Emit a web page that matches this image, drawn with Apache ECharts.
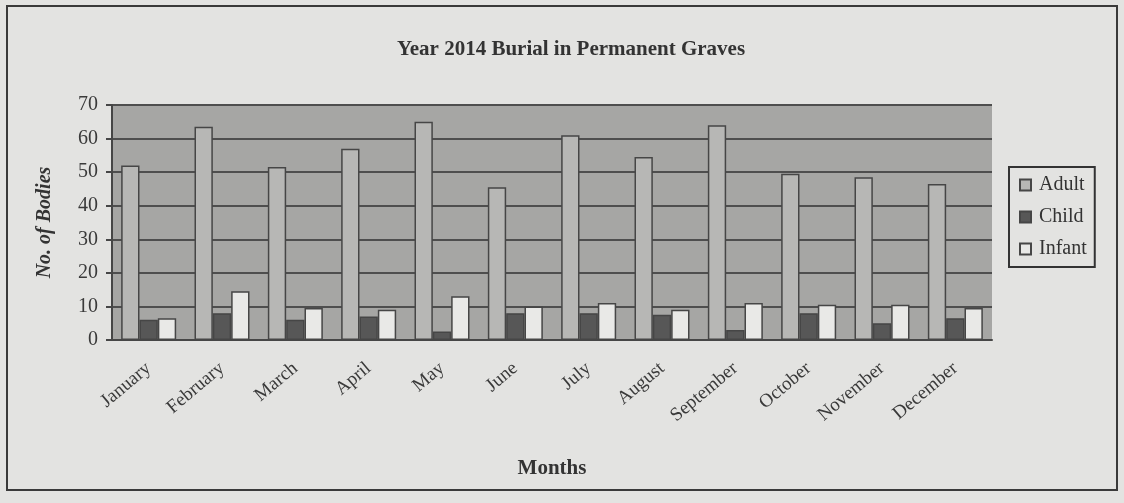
<!DOCTYPE html>
<html>
<head>
<meta charset="utf-8">
<title>Year 2014 Burial in Permanent Graves</title>
<script src="https://cdn.jsdelivr.net/npm/echarts@6/dist/echarts.min.js"></script>
<style>
  html, body { margin: 0; padding: 0; background: #e3e3e1; }
  #chart { width: 1124px; height: 503px; }
</style>
</head>
<body>
<div id="chart"></div>
<script>
// data
const months = ['January', 'February', 'March', 'April', 'May', 'June',
  'July', 'August', 'September', 'October', 'November', 'December']
const adult = [52, 63.5, 51.5, 57, 65, 45.5, 61, 54.5, 64, 49.5, 48.5, 46.5]
const child = [6, 8, 6, 7, 2.5, 8, 8, 7.5, 3, 8, 5, 6.5]
const infant = [6.5, 14.5, 9.5, 9, 13, 10, 11, 9, 11, 10.5, 10.5, 9.5]
const yTicks = [0, 10, 20, 30, 40, 50, 60, 70]

const serif = '"Liberation Serif", "DejaVu Serif", serif'
const edge = '#464646'

const chart = echarts.init(document.getElementById('chart'))

function barSeries (name, data, fill) {
  return {
    name: name,
    type: 'bar',
    data: data,
    barGap: '0%',
    barCategoryGap: '25%',
    itemStyle: { color: fill, borderColor: edge, borderWidth: 1.5 },
    emphasis: { disabled: true }
  }
}

chart.setOption({
  animation: false,
  backgroundColor: '#e3e3e1',
  textStyle: { fontFamily: serif },
  graphic: [{
    type: 'rect',
    shape: { x: 7, y: 6, width: 1110, height: 484 },
    style: { fill: 'transparent', stroke: '#3a3a3a', lineWidth: 2 },
    silent: true,
    z: -1
  }],
  title: {
    text: 'Year 2014 Burial in Permanent Graves',
    left: 566,
    top: 34,
    textAlign: 'center',
    textStyle: { fontFamily: serif, fontSize: 21, fontWeight: 'bold', color: '#333' }
  },
  legend: {
    orient: 'vertical',
    left: 1009,
    top: 167,
    icon: 'rect',
    itemWidth: 11,
    itemHeight: 11,
    itemGap: 12,
    padding: [8, 8, 8, 10],
    borderColor: '#333',
    borderWidth: 2,
    textStyle: { fontFamily: serif, fontSize: 20, color: '#333', padding: [0, 0, 0, 3] },
    data: ['Adult', 'Child', 'Infant']
  },
  grid: {
    left: 112,
    right: 132,
    top: 105,
    bottom: 163,
    show: true,
    backgroundColor: '#a6a6a4',
    borderWidth: 0
  },
  xAxis: {
    type: 'category',
    data: months,
    name: 'Months',
    nameLocation: 'middle',
    nameGap: 118,
    nameTextStyle: { fontFamily: serif, fontSize: 21, fontWeight: 'bold', color: '#333' },
    axisLine: { lineStyle: { color: edge, width: 2 } },
    axisTick: { length: 6, lineStyle: { color: edge, width: 2 } },
    axisLabel: {
      rotate: 40,
      interval: 0,
      margin: 26,
      fontFamily: serif,
      fontSize: 19,
      color: '#3a3a3a'
    }
  },
  yAxis: {
    type: 'value',
    min: yTicks[0],
    max: yTicks[yTicks.length - 1],
    interval: yTicks[1] - yTicks[0],
    name: 'No. of Bodies',
    nameLocation: 'middle',
    nameGap: 57,
    nameTextStyle: { fontFamily: serif, fontSize: 20, fontWeight: 'bold', fontStyle: 'italic', color: '#333' },
    axisLine: { show: true, lineStyle: { color: edge, width: 2 } },
    axisTick: { show: true, length: 6, lineStyle: { color: edge, width: 2 } },
    axisLabel: { fontFamily: serif, fontSize: 20, color: '#3a3a3a', margin: 14 },
    splitLine: { lineStyle: { color: '#4e4e4e', width: 2 } }
  },
  series: [
    barSeries('Adult', adult, '#b7b7b5'),
    barSeries('Child', child, '#575757'),
    barSeries('Infant', infant, '#e9e9e7')
  ]
})
</script>
</body>
</html>
